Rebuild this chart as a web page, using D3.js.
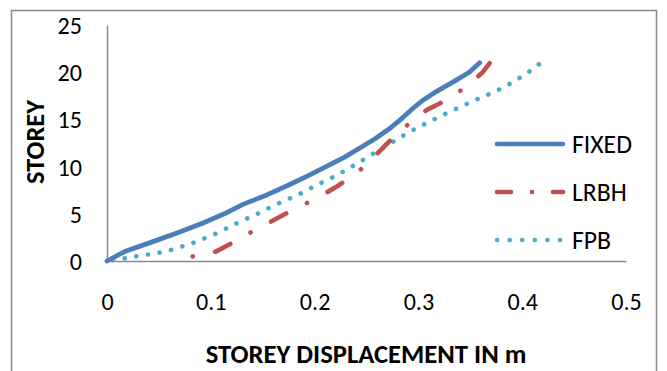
<!DOCTYPE html>
<html>
<head>
<meta charset="utf-8">
<script src="https://cdn.jsdelivr.net/npm/d3@7"></script>
<style>
  body { margin: 0; background: #fff; }
  text { font-family: Carlito, Calibri, Lato, sans-serif; fill: #000; }
</style>
</head>
<body>
<script>
// storey numbers and displacements (m)
const storeys = d3.range(0, 22);
const fixedDisp = [0, 0.017, 0.043, 0.068, 0.092, 0.113, 0.131, 0.154, 0.174, 0.193, 0.211,
  0.229, 0.244, 0.259, 0.272, 0.283, 0.293, 0.304, 0.318, 0.334, 0.349, 0.359];
const fpbDisp = [0, 0.057, 0.085, 0.107, 0.125, 0.145, 0.163, 0.184, 0.201, 0.220, 0.236,
  0.251, 0.266, 0.281, 0.297, 0.315, 0.334, 0.354, 0.375, 0.392, 0.406, 0.418];
// LRBH starts off the base, with an extra point near the foot
const lrbhStorey = [0, 0.6, 1, 2, 3, 4, 5, 6, 7, 8, 9, 10, 11, 12, 13, 14, 15, 16, 17, 18, 19, 20, 21];
const lrbhDisp = [0.081, 0.083, 0.105, 0.122, 0.138, 0.155, 0.172, 0.190, 0.208, 0.223, 0.236,
  0.248, 0.257, 0.266, 0.275, 0.285, 0.296, 0.308, 0.326, 0.340, 0.352, 0.362, 0.369];
const xTicks = [0, 0.1, 0.2, 0.3, 0.4, 0.5];
const yTicks = [0, 5, 10, 15, 20, 25];
const seriesNames = ["FIXED", "LRBH", "FPB"];

// scale a text's font so it spans a given width
function fitWidth(sel, target){
    const w = sel.node().getComputedTextLength();
    const fs = parseFloat(sel.style("font-size"));
    return fs * target / w;
}

// length along a pixel polyline up to the point at index i plus fraction t
function lengthTo(pts, i, t){
    let len = 0;
    for (let k = 1; k <= i; k++) len += Math.hypot(pts[k][0]-pts[k-1][0], pts[k][1]-pts[k-1][1]);
    if (t > 0 && i + 1 < pts.length)
        len += t * Math.hypot(pts[i+1][0]-pts[i][0], pts[i+1][1]-pts[i][1]);
    return len;
}

function main(){
    const width = 667;
    const height = 371;

    const svg = d3.select("body").append("svg")
        .attr("width", width)
        .attr("height", height);

    // chart frame
    svg.append("rect")
        .attr("x", 11.5).attr("y", 10.5)
        .attr("width", 645).attr("height", 380)
        .attr("fill", "#fff")
        .attr("stroke", "#8a8a8a")
        .attr("stroke-width", 1.5);

    const x = d3.scaleLinear().domain([0, 0.5]).range([107, 626]);
    const y = d3.scaleLinear().domain([0, 25]).range([261, 25]);

    // font size for tick labels: "0.1" about 30px wide
    const probe = svg.append("text").style("font-size", "20px").text("0.1");
    const tickFs = fitWidth(probe, 30.5);
    probe.remove();

    const xAxis = svg.append("g")
        .attr("transform", "translate(0," + y(0) + ")")
        .call(d3.axisBottom(x).tickValues(xTicks).tickSize(0).tickPadding(0)
            .tickFormat(d => d === 0 ? "0" : d3.format(".1f")(d)));
    xAxis.select(".domain").attr("stroke", "#8a8a8a").attr("stroke-width", 1.5);
    xAxis.selectAll("text")
        .attr("y", 41).attr("dy", "0.35em")
        .style("font-size", tickFs + "px");

    const yAxis = svg.append("g")
        .attr("transform", "translate(" + x(0) + ",0)")
        .call(d3.axisLeft(y).tickValues(yTicks).tickSize(0).tickPadding(25));
    yAxis.select(".domain").attr("stroke", "#8a8a8a").attr("stroke-width", 1.5);
    yAxis.selectAll("text")
        .attr("dy", "0.35em")
        .style("font-size", tickFs + "px");

    const colors = { FIXED: "#4a7ebb", LRBH: "#c0504d", FPB: "#4bacc6" };
    const line = d3.line().x(d => x(d[0])).y(d => y(d[1]));

    const fixedPts = storeys.map((s, i) => [fixedDisp[i], s]);
    const fpbPts = storeys.map((s, i) => [fpbDisp[i], s]);
    const lrbhPts = lrbhStorey.map((s, i) => [lrbhDisp[i], s]);

    svg.append("path")
        .attr("d", line(fpbPts))
        .attr("fill", "none")
        .attr("stroke", colors.FPB)
        .attr("stroke-width", 4.6)
        .attr("stroke-linecap", "round")
        .attr("stroke-dasharray", "0.1,11.7")
        .attr("stroke-dashoffset", -6);

    // dash-dot phase: dots sit near storey 0.5 and storey 18
    const lrbhPx = lrbhPts.map(d => [x(d[0]), y(d[1])]);
    const dotA = lengthTo(lrbhPx, 0, 0.8);
    const dotB = lengthTo(lrbhPx, lrbhStorey.indexOf(18), 0);
    const period = (dotB - dotA) / 5;
    const dash = period * 0.27;
    const gap = (period - dash) / 2;
    svg.append("path")
        .attr("d", line(lrbhPts))
        .attr("fill", "none")
        .attr("stroke", colors.LRBH)
        .attr("stroke-width", 4.6)
        .attr("stroke-linecap", "round")
        .attr("stroke-dasharray", [dash, gap, 0.1, gap].join(","))
        .attr("stroke-dashoffset", dash + gap - dotA);

    svg.append("path")
        .attr("d", line(fixedPts))
        .attr("fill", "none")
        .attr("stroke", colors.FIXED)
        .attr("stroke-width", 4.8)
        .attr("stroke-linecap", "round")
        .attr("stroke-linejoin", "round");

    // legend
    const legendY = [144, 192, 240];
    const dashes = { FIXED: null, LRBH: "14,21,0.1,21", FPB: "0.1,12.5" };
    const legend = svg.append("g");
    const lp = svg.append("text").style("font-size", "20px").text("FIXED");
    const legFs = fitWidth(lp, 60);
    lp.remove();
    seriesNames.forEach((name, i) => {
        legend.append("line")
            .attr("x1", 497).attr("x2", 563)
            .attr("y1", legendY[i]).attr("y2", legendY[i])
            .attr("stroke", colors[name])
            .attr("stroke-width", 4.6)
            .attr("stroke-linecap", "round")
            .attr("stroke-dasharray", dashes[name]);
        legend.append("text")
            .attr("x", 572)
            .attr("y", legendY[i])
            .attr("dy", "0.35em")
            .style("font-size", legFs + "px")
            .text(name);
    });

    // axis titles
    const xt = svg.append("text")
        .attr("x", 366).attr("y", 354)
        .attr("dy", "0.35em")
        .attr("text-anchor", "middle")
        .style("font-size", "20px")
        .style("font-weight", "bold")
        .text("STOREY DISPLACEMENT IN m");
    xt.style("font-size", fitWidth(xt, 321) + "px");

    const yt = svg.append("text")
        .attr("transform", "translate(35,142) rotate(-90)")
        .attr("dy", "0.35em")
        .attr("text-anchor", "middle")
        .style("font-size", "20px")
        .style("font-weight", "bold")
        .text("STOREY");
    yt.style("font-size", fitWidth(yt, 84) + "px");
}

main();
</script>
</body>
</html>
